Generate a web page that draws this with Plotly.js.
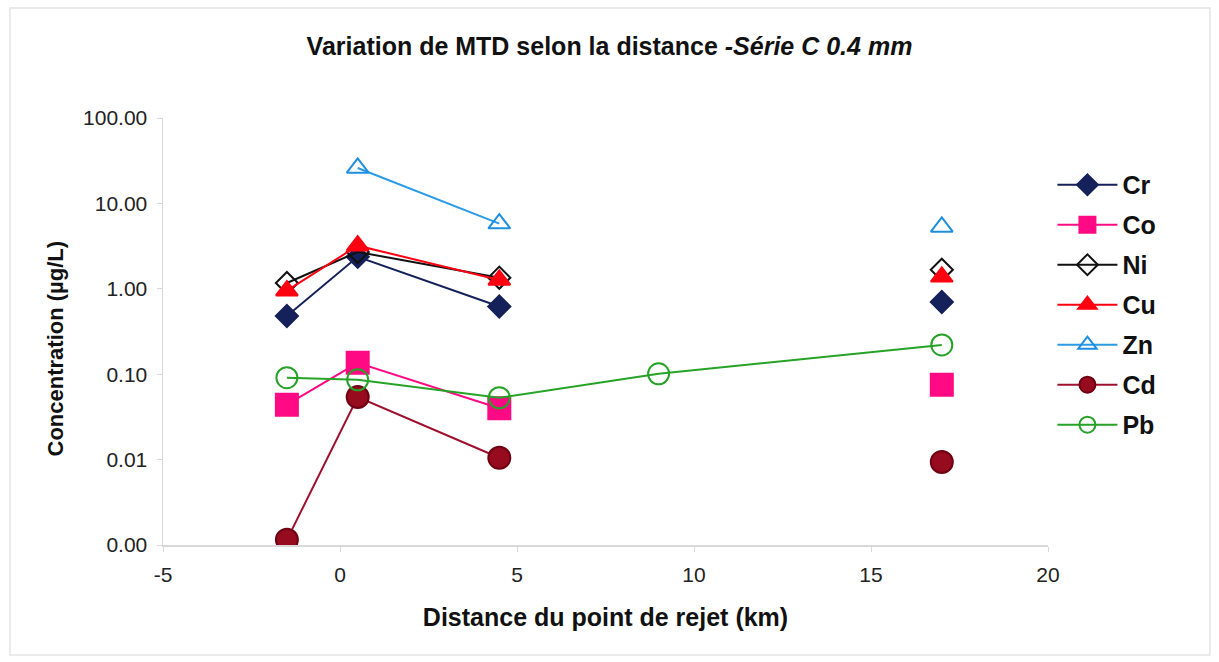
<!DOCTYPE html>
<html><head><meta charset="utf-8">
<script src="https://cdn.plot.ly/plotly-3.0.1.min.js"></script>
<style>html,body{margin:0;padding:0;background:#fff;}#chart{width:1219px;height:662px;}</style>
</head><body><div id="chart"></div>
<script>
var distances = [-1.5, 0.5, 4.5, 9, 17];
var Cr = [0.48, 2.37, 0.62, null, 0.70];
var Co = [0.044, 0.136, 0.040, null, 0.075];
var Ni = [1.17, 2.7, 1.35, null, 1.67];
var Cu = [0.95, 3.2, 1.27, null, 1.38];
var Zn = [null, 26, 5.8, null, 5.3];
var Cd = [0.00115, 0.054, 0.0105, null, 0.0094];
var Pb = [0.091, 0.086, 0.053, 0.101, 0.22];
var yTickVals = [0.001, 0.01, 0.1, 1, 10, 100];
var yTickText = ["0.00", "0.01", "0.10", "1.00", "10.00", "100.00"];
var xTickVals = [-5, 0, 5, 10, 15, 20];
var xTickText = ["-5", "0", "5", "10", "15", "20"];

function tr(name, y, color, symbol, size, fill, lineColor) {
  return {
    x: distances, y: y, name: name, type: 'scatter', mode: 'lines+markers',
    connectgaps: false, legendgroup: name,
    line: {color: lineColor || color, width: 2},
    marker: {symbol: symbol, size: size, color: fill, line: {color: color, width: 2}}
  };
}
var data = [
  tr('Cr', Cr, '#14215a', 'diamond', 17, '#14215a'),
  tr('Co', Co, '#ff0a84', 'square', 22, '#ff0a84'),
  tr('Ni', Ni, '#111111', 'diamond-open', 17, '#111111'),
  tr('Cu', Cu, '#ff0010', 'triangle-up', 19, '#ff0010'),
  tr('Zn', Zn, '#1e8fe0', 'triangle-up-open', 19, '#1e8fe0', '#2b9be6'),
  tr('Cd', Cd, '#6e0012', 'circle', 22, '#960b1e', '#a0102e'),
  tr('Pb', Pb, '#26a326', 'circle-open', 21, '#26a326')
];
var layout = {
  width: 1219, height: 662,
  margin: {l: 163, r: 171, t: 118, b: 117},
  paper_bgcolor: '#ffffff', plot_bgcolor: '#ffffff',
  font: {family: 'Liberation Sans, Arial, sans-serif', color: '#111'},
  title: {text: '<b>Variation de MTD selon la distance <i>-Série C 0.4 mm</i></b>',
          font: {size: 25, color: '#111'}, x: 0.5, xanchor: 'center', y: 0.93, yanchor: 'middle'},
  xaxis: {range: [-5, 20], tickvals: xTickVals, ticktext: xTickText, showgrid: false, zeroline: false,
          showline: true, linecolor: '#d8d8d8', linewidth: 1.5, ticks: 'outside', tickcolor: '#d8d8d8', ticklen: 5,
          ticklabelstandoff: 5, tickfont: {size: 21, color: '#222'},
          title: {text: '<b>Distance du point de rejet (km)</b>', font: {size: 25, color: '#111'}, standoff: 24}},
  yaxis: {type: 'log', range: [-3, 2], tickvals: yTickVals, ticktext: yTickText, showgrid: false, zeroline: false,
          showline: true, linecolor: '#d8d8d8', linewidth: 1.5, ticks: 'outside', tickcolor: '#d8d8d8', ticklen: 5,
          ticklabelstandoff: 5, tickfont: {size: 21, color: '#222'}},
  annotations: [{text: '<b>Concentration (µg/L)</b>', xref: 'paper', yref: 'paper', x: -0.121, y: 0.46,
                 xanchor: 'center', yanchor: 'middle', textangle: -90, showarrow: false,
                 font: {size: 22, color: '#111'}}],
  legend: {x: 1.005, xanchor: 'left', y: 0.897, yanchor: 'top', font: {size: 25, color: '#111', weight: 'bold'},
           tracegroupgap: 4.5, itemwidth: 60, bgcolor: 'rgba(0,0,0,0)'},
  shapes: [{type: 'rect', xref: 'paper', yref: 'paper', x0: -0.1729, x1: 1.183, y0: -0.2576, y1: 1.2576,
            line: {color: '#e4e4e4', width: 1.5}, fillcolor: 'rgba(0,0,0,0)', layer: 'below'}]
};
Plotly.newPlot('chart', data, layout, {displayModeBar: false, staticPlot: true});
</script></body></html>
